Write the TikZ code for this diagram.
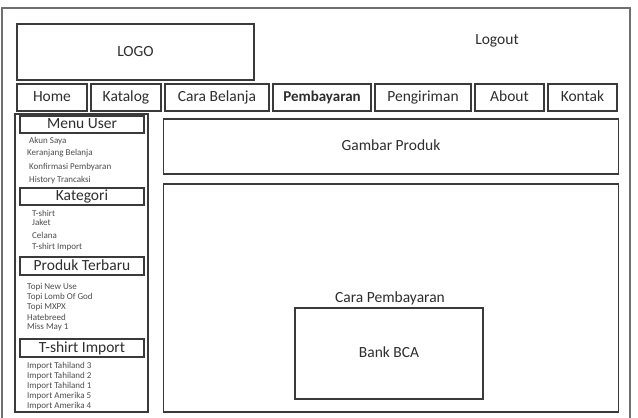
\documentclass[tikz,border=0pt]{standalone}
\usepackage{fontspec}
\setmainfont{Carlito}
\definecolor{linec}{HTML}{3A3A3A}
\definecolor{framec}{HTML}{707070}
\definecolor{textc}{HTML}{2E2E2E}
\begin{document}
\begin{tikzpicture}[x=1pt,y=-1pt,
  box/.style={draw=linec, line width=1.3pt, inner sep=0pt, text=textc, text height=10pt, text depth=2pt, font=\fontsize{15.5}{17}\selectfont},
  big/.style={text=textc, font=\fontsize{15.5}{17}\selectfont, inner sep=0pt},
  item/.style={anchor=west, inner sep=0pt, text=textc!85, font=\fontsize{9}{10}\selectfont},
  hdr/.style={box, minimum width=124pt, font=\fontsize{15.5}{16}\selectfont}]
\useasboundingbox (0,0) rectangle (638,418);
\fill[white] (0,0) rectangle (638,418);
% outer frame
\draw[framec, line width=1.4pt] (2,425) -- (2,8) -- (630,8) -- (630,425);
% header
\node[box, minimum width=237pt, minimum height=56pt] (logo) at (135.5,52) {LOGO};
\node[big] (logout) at (497,41) {Logout};
% navigation
\node[box, minimum width=70pt, minimum height=27pt] (home) at (52,97.5) {Home};
\node[box, minimum width=70pt, minimum height=27pt] (katalog) at (126,97.5) {Katalog};
\node[box, minimum width=104pt, minimum height=27pt] (cara) at (217,97.5) {Cara Belanja};
\node[box, minimum width=98pt, minimum height=27pt, font=\fontsize{15}{16}\selectfont\bfseries] (bayar) at (322,97.5) {Pembayaran};
\node[box, minimum width=96pt, minimum height=27pt] (kirim) at (423,97.5) {Pengiriman};
\node[box, minimum width=69pt, minimum height=27pt] (about) at (509.5,97.5) {About};
\node[box, minimum width=69pt, minimum height=27pt] (kontak) at (582.5,97.5) {Kontak};
% sidebar
\node[box, minimum width=133pt, minimum height=298pt] (side) at (81.5,263) {};
\node[hdr, minimum height=17pt] (menuuser) at (82,124.5) {Menu User};
\node[item] (i1) at (29,141) {Akun Saya};
\node[item] (i2) at (27,153.5) {Keranjang Belanja};
\node[item] (i3) at (29,167) {Konfirmasi Pembyaran};
\node[item] (i4) at (29,180) {History Trancaksi};
\node[hdr, minimum height=17pt] (kategori) at (82,196.5) {Kategori};
\node[item] (k1) at (32,213) {T-shirt};
\node[item] (k2) at (32,222) {Jaket};
\node[item] (k3) at (32,235) {Celana};
\node[item] (k4) at (32,247) {T-shirt Import};
\node[hdr, minimum height=18pt] (produk) at (82,266) {Produk Terbaru};
\node[item] (p1) at (27,287) {Topi New Use};
\node[item] (p2) at (27,297) {Topi Lomb Of God};
\node[item] (p3) at (27,307) {Topi MXPX};
\node[item] (p4) at (27,317) {Hatebreed};
\node[item] (p5) at (27,327.5) {Miss May 1};
\node[hdr, minimum height=18pt] (import) at (82,348) {T-shirt Import};
\node[item] (t1) at (27,366) {Import Tahiland 3};
\node[item] (t2) at (27,376) {Import Tahiland 2};
\node[item] (t3) at (27,386) {Import Tahiland 1};
\node[item] (t4) at (27,396.5) {Import Amerika 5};
\node[item] (t5) at (27,406.5) {Import Amerika 4};
% content
\node[box, minimum width=455pt, minimum height=55pt] (gambar) at (391,146.5) {Gambar Produk};
\node[box, minimum width=455pt, minimum height=228pt] (content) at (391,298) {};
\node[big] (carabayar) at (390,298) {Cara Pembayaran};
\node[box, minimum width=188pt, minimum height=91pt] (bca) at (389,353.5) {Bank BCA};
\end{tikzpicture}
\end{document}
